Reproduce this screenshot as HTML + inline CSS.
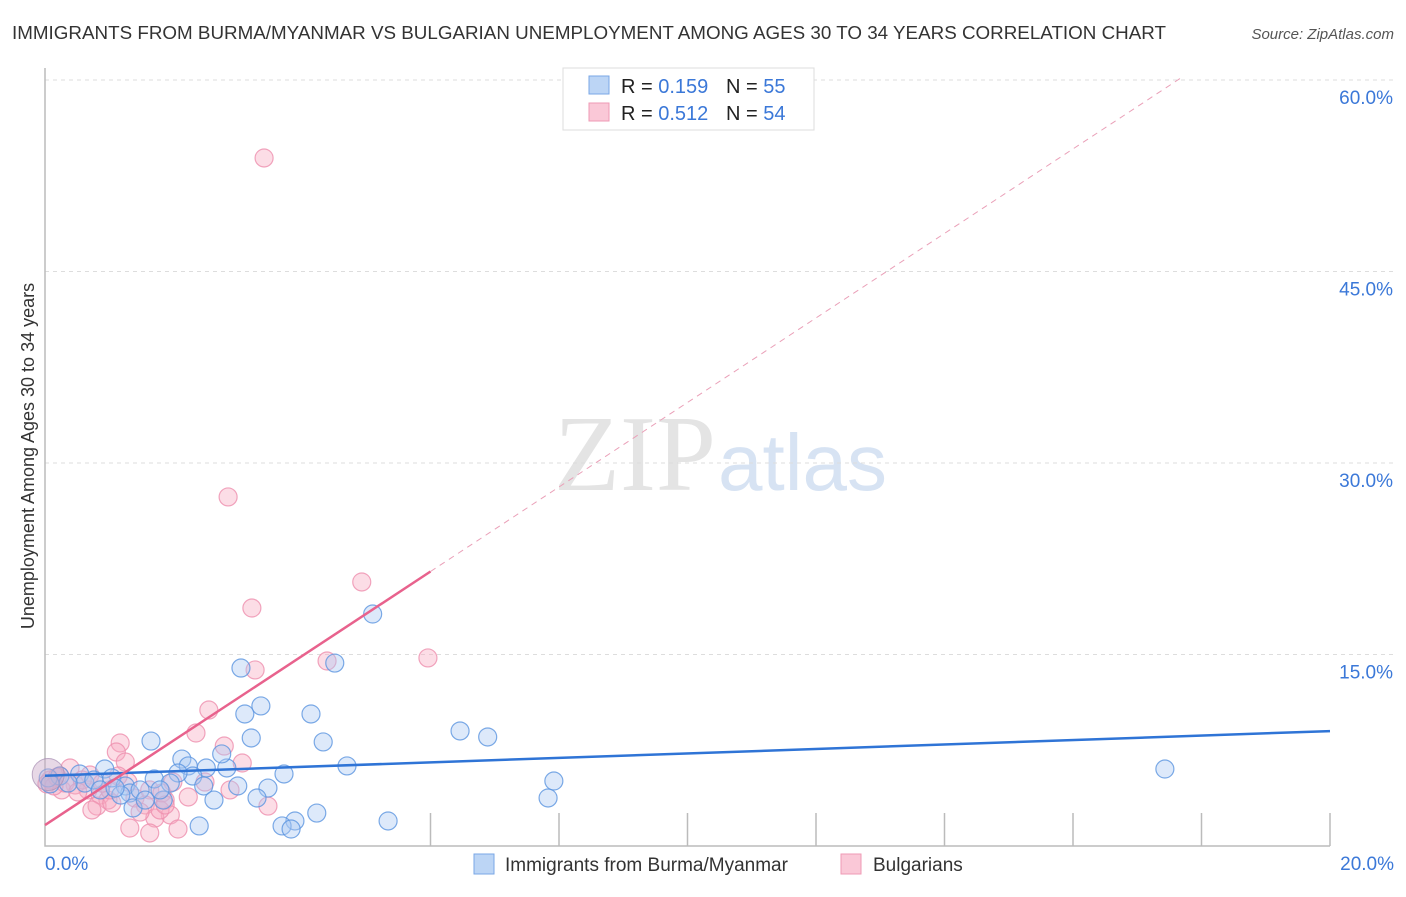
<!DOCTYPE html>
<html><head><meta charset="utf-8"><style>
body{margin:0;background:#fff;font-family:"Liberation Sans",sans-serif}
</style></head><body>
<svg id="chart" width="1406" height="892" xmlns="http://www.w3.org/2000/svg" font-family="Liberation Sans, sans-serif">
<text x="12" y="39" font-size="18" fill="#333" textLength="1154" lengthAdjust="spacingAndGlyphs">IMMIGRANTS FROM BURMA/MYANMAR VS BULGARIAN UNEMPLOYMENT AMONG AGES 30 TO 34 YEARS CORRELATION CHART</text>
<text x="1394" y="39" font-size="15" fill="#555" text-anchor="end" font-style="italic">Source: ZipAtlas.com</text>
<text x="716" y="490" font-size="108" fill="#e4e4e4" text-anchor="end" font-family="Liberation Serif, serif">ZIP</text>
<text x="718" y="490" font-size="80" fill="#d7e3f3">atlas</text>
<g id="grid"></g><g id="axes"></g><g id="pts"></g><g id="lines"></g>
<text transform="translate(34,456) rotate(-90)" font-size="18" fill="#333" text-anchor="middle">Unemployment Among Ages 30 to 34 years</text>
<g>
<rect x="563" y="68" width="251" height="62" fill="#fff" stroke="#ddd"/>
<rect x="589" y="76" width="20" height="18" fill="#bcd5f5" stroke="#7aa7e6"/>
<rect x="589" y="103" width="20" height="18" fill="#fac8d7" stroke="#ef9ab4"/>
<text x="621" y="93" font-size="20" fill="#222">R = <tspan fill="#3b78d8">0.159</tspan><tspan x="726">N = </tspan><tspan fill="#3b78d8">55</tspan></text>
<text x="621" y="120" font-size="20" fill="#222">R = <tspan fill="#3b78d8">0.512</tspan><tspan x="726">N = </tspan><tspan fill="#3b78d8">54</tspan></text>
</g>
<g>
<rect x="474" y="854" width="20" height="20" fill="#bcd5f5" stroke="#7aa7e6"/>
<text x="505" y="871" font-size="19" fill="#333">Immigrants from Burma/Myanmar</text>
<rect x="841" y="854" width="20" height="20" fill="#fac8d7" stroke="#ef9ab4"/>
<text x="873" y="871" font-size="19" fill="#333">Bulgarians</text>
</g>
</svg>
<script>
const blueX=[17.43,6.46,6.89,5.10,4.51,3.05,3.36,3.11,4.14,3.21,4.33,1.65,2.13,2.23,2.51,2.83,4.70,3.72,3.47,2.75,2.30,2.07,1.70,1.95,0.93,1.04,0.54,0.23,0.05,0.08,1.25,1.32,1.48,1.18,2.47,2.63,1.84,1.37,3.30,4.23,3.89,3.69,3.83,5.34,2.40,7.83,7.92,0.62,0.76,0.36,0.86,1.09,1.56,3.00,1.79];
const blueY=[6.03,9.01,8.54,18.17,14.33,13.94,10.97,10.34,10.34,8.46,8.15,8.22,6.81,6.27,6.11,6.11,6.27,5.64,4.54,7.21,5.48,5.72,5.25,4.93,6.03,5.33,5.64,5.48,5.33,4.86,4.70,4.15,4.39,3.99,4.70,3.60,3.60,2.98,3.76,2.58,1.96,1.57,1.33,1.96,1.57,3.76,5.09,4.93,5.17,4.93,4.39,4.54,3.60,4.70,4.39];
const pinkX=[3.41,2.85,3.22,4.93,5.96,3.27,4.39,2.55,2.35,2.79,1.17,1.11,1.25,3.07,0.39,0.23,0.08,0.03,0.70,0.67,0.86,0.98,0.81,0.73,1.04,1.40,1.63,1.87,1.82,1.56,1.95,1.71,1.32,1.63,2.07,3.47,2.23,2.49,0.47,0.58,1.29,0.19,0.26,1.48,1.79,1.87,1.01,0.31,0.51,2.88,1.14,1.99,0.14,0.89];
const pinkY=[53.89,27.34,18.64,20.68,14.73,13.79,14.49,10.65,8.85,7.83,8.07,7.36,6.58,6.50,6.11,5.48,5.17,4.86,5.56,4.39,3.99,3.60,3.13,2.82,3.37,3.76,4.39,3.60,4.15,3.21,2.43,2.19,1.41,1.02,1.33,3.13,3.84,5.01,4.78,5.17,5.01,5.40,4.39,2.66,2.82,3.21,4.39,4.93,4.23,4.39,5.48,5.01,4.70,4.93];
const yTicks=[15,30,45,60];
const yTickLabels=["15.0%","30.0%","45.0%","60.0%"];
const xTicks=[6,8,10,12,14,16,18,20];
const blueTrend=[5.5,9.0];
const pinkTrend=[1.64,3.31];
const NS="http://www.w3.org/2000/svg";
const sx=v=>45+v*64.25, sy=v=>846-v*12.767;
function mk(p,t,a){const e=document.createElementNS(NS,t);for(const k in a)e.setAttribute(k,a[k]);p.appendChild(e);return e;}
const grid=document.getElementById('grid'),axes=document.getElementById('axes'),pts=document.getElementById('pts'),lines=document.getElementById('lines');
yTicks.forEach((t,i)=>{
 const l=mk(grid,'line',{x1:45,x2:1394,y1:sy(t),y2:sy(t),stroke:'#ddd','stroke-dasharray':'4,4'});
 
 
 const tx=mk(axes,'text',{x:1393,y:sy(t)+24,'font-size':19,fill:'#3b78d8','text-anchor':'end'});
 tx.textContent=yTickLabels[i];
 
 
});
const ax=mk(axes,'path',{d:'M45 68 V846 H1330',fill:'none',stroke:'#bbb','stroke-width':1.5});


xTicks.forEach(t=>{const l=mk(axes,'line',{x1:sx(t),x2:sx(t),y1:813,y2:846,stroke:'#bbb','stroke-width':1.5});
 
 });
[["0.0%",45,'start'],["20.0%",1394,'end']].forEach(([s,x,a])=>{const t=mk(axes,'text',{x:x,y:870,'font-size':19,fill:'#3b78d8','text-anchor':a});t.textContent=s;
 
 });
function dots(X,Y,fill,stroke,name){X.forEach((x,i)=>{const c=mk(pts,'circle',{cx:sx(x),cy:sy(Y[i]),r:9,fill:fill,'fill-opacity':0.4,stroke:stroke,'stroke-opacity':0.8,'stroke-width':1.2});
 
 });}
dots(pinkX,pinkY,'#f7a9c0','#ee8fae','bulgarians-point');
dots(blueX,blueY,'#a9c9f3','#5b95e0','burma-point');
const big=mk(pts,'circle',{cx:sx(0.05),cy:sy(5.6),r:16,fill:'#c9a9c8','fill-opacity':0.45,stroke:'#a58bb0','stroke-opacity':0.7});


const bl=mk(lines,'line',{x1:sx(0),y1:sy(blueTrend[0]),x2:sx(20),y2:sy(blueTrend[1]),stroke:'#2f74d6','stroke-width':2.5});


const pl=mk(lines,'line',{x1:sx(0),y1:sy(pinkTrend[0]),x2:sx(6),y2:sy(pinkTrend[0]+pinkTrend[1]*6),stroke:'#e8628d','stroke-width':2.5});


const xe=(60.2-pinkTrend[0])/pinkTrend[1];
const pd=mk(lines,'line',{x1:sx(6),y1:sy(pinkTrend[0]+pinkTrend[1]*6),x2:sx(xe),y2:sy(60.2),stroke:'#eaa0b8','stroke-width':1,'stroke-dasharray':'6,5'});


</script>
</body></html>
